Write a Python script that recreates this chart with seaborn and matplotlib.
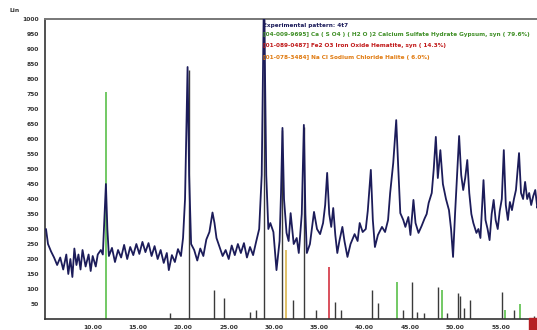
import numpy as np
import pandas as pd
import matplotlib
matplotlib.use("Agg")
import matplotlib.pyplot as plt
from matplotlib.patches import Rectangle
import seaborn as sns

# Measured diffraction trace (2-theta in degrees, intensity in counts)
two_theta = [
    4.85, 5.07, 5.41, 5.74, 6.08, 6.42, 6.75, 7.09, 7.31, 7.54, 7.76, 7.98, 8.21,
    8.43, 8.66, 8.88, 9.22, 9.55, 9.78, 10.00, 10.34, 10.56, 10.90, 11.12, 11.29,
    11.46, 11.62, 11.79, 12.13, 12.46, 12.80, 13.14, 13.47, 13.81, 14.14, 14.48,
    14.82, 15.15, 15.49, 15.82, 16.16, 16.50, 16.83, 17.17, 17.50, 17.84, 18.18,
    18.40, 18.74, 19.07, 19.41, 19.74, 19.97, 20.19, 20.47, 20.64, 20.86, 21.20,
    21.54, 21.87, 22.21, 22.54, 22.88, 23.22, 23.44, 23.66, 24.00, 24.34, 24.67,
    25.01, 25.34, 25.68, 26.02, 26.35, 26.69, 27.02, 27.36, 27.70, 28.03, 28.37,
    28.65, 28.90, 29.15, 29.38, 29.60, 29.94, 30.28, 30.62, 30.78, 30.94, 31.11,
    31.39, 31.62, 31.84, 32.18, 32.51, 32.74, 33.07, 33.30, 33.47, 33.63, 33.97,
    34.42, 34.75, 35.09, 35.42, 35.65, 35.87, 36.10, 36.32, 36.54, 36.77, 36.99,
    37.22, 37.55, 37.78, 38.11, 38.45, 38.90, 39.23, 39.46, 39.79, 40.13, 40.35,
    40.69, 40.91, 41.14, 41.47, 41.92, 42.26, 42.59, 42.82, 43.16, 43.49, 43.72,
    43.94, 44.27, 44.50, 44.83, 45.06, 45.39, 45.62, 45.95, 46.29, 46.62, 46.85,
    47.07, 47.41, 47.63, 47.86, 48.08, 48.36, 48.64, 48.98, 49.31, 49.54, 49.76,
    49.98, 50.21, 50.43, 50.66, 50.88, 51.10, 51.33, 51.55, 51.78, 52.00, 52.34,
    52.56, 52.78, 53.12, 53.34, 53.57, 53.79, 54.02, 54.24, 54.46, 54.69, 54.91,
    55.14, 55.36, 55.58, 55.81, 56.03, 56.26, 56.48, 56.70, 57.04, 57.26, 57.49,
    57.71, 57.94, 58.16, 58.38, 58.61, 58.83, 59.06, 59.28, 59.50, 59.73, 59.95,
]
counts = [
    300, 250, 225, 205, 180, 205, 165, 215, 150, 200, 140, 235, 180,
    215, 165, 230, 175, 215, 160, 210, 175, 215, 230, 215, 330,
    450, 300, 210, 237, 190, 230, 205, 247, 200, 240, 213,
    250, 217, 257, 223, 253, 210, 243, 200, 230, 187, 220,
    163, 213, 190, 233, 210, 270, 400, 840, 480, 250, 230,
    195, 235, 210, 265, 290, 355, 320, 270, 240, 210, 230,
    200, 245, 213, 250, 220, 253, 205, 240, 213, 257, 300,
    480, 1100, 480, 300, 320, 290, 163, 260, 420, 637, 400,
    287, 260, 353, 250, 270, 220, 350, 647, 350, 220, 250,
    357, 300, 283, 320, 380, 487, 350, 307, 370, 280, 220,
    260, 307, 260, 207, 250, 283, 260, 320, 290, 300, 360,
    497, 330, 240, 280, 307, 290, 330, 420, 520, 663, 500,
    353, 330, 307, 340, 280, 397, 320, 287, 310, 335, 350,
    387, 420, 500, 607, 470, 563, 450, 400, 363, 300, 207,
    350, 480, 610, 480, 430, 470, 530, 420, 350, 320, 287,
    300, 270, 463, 330, 300, 263, 350, 397, 330, 300, 360,
    400, 563, 380, 330, 390, 363, 400, 430, 553, 420, 400,
    457, 400, 420, 380, 410, 430, 370, 400, 340, 397, 400,
]

# Reference stick patterns (position, intensity)
gypsum_pos = [11.46, 43.60, 48.53, 55.47, 57.15]
gypsum_int = [757, 123, 97, 30, 50]
other_pos = [18.51, 20.64, 23.44, 24.45, 27.36, 28.03, 28.93, 30.94, 32.06, 33.35,
             34.64, 36.77, 37.44, 40.80, 41.47, 44.27, 45.28, 45.73, 46.51, 48.08,
             49.09, 50.32, 50.54, 50.99, 51.66, 55.14, 56.48, 58.72]
other_int = [20, 830, 97, 70, 23, 30, 1000, 630, 63, 640,
             30, 57, 30, 97, 53, 30, 123, 23, 20, 107,
             20, 87, 77, 37, 63, 90, 30, 10]
hematite_pos = [36.10]
hematite_int = [173]
halite_pos = [31.28]
halite_int = [230]

y_ticks = list(range(50, 1001, 50))
x_ticks = [10, 15, 20, 25, 30, 35, 40, 45, 50, 55]
x_tick_labels = ["10.00", "15.00", "20.00", "25.00", "30.00",
                 "35.00", "40.00", "45.00", "50.00", "55.00"]

legend_rows = [
    ("Experimental pattern: 4t7", "#1c1c5a"),
    ("[04-009-9695] Ca ( S O4 ) ( H2 O )2 Calcium Sulfate Hydrate Gypsum, syn ( 79.6%)", "#3f8f26"),
    ("[01-089-0487] Fe2 O3 Iron Oxide Hematite, syn ( 14.3%)", "#c01818"),
    ("[01-078-3484] Na Cl Sodium Chloride Halite ( 6.0%)", "#e07a10"),
]

sns.set_theme(style="white")
plt.rcParams["font.family"] = ["DejaVu Sans"]

fig = plt.figure(figsize=(5.37, 3.30), dpi=100)
ax = fig.add_axes([0.0838, 0.0333, 0.93, 0.9091])

# Stick patterns
ax.vlines(other_pos, 0, other_int, color="#3a3a3a", lw=1.0, zorder=1)
ax.vlines(gypsum_pos, 0, gypsum_int, color="#4cbb3a", lw=1.1, zorder=1)
ax.vlines(hematite_pos, 0, hematite_int, color="#d02030", lw=1.1, zorder=1)
ax.vlines(halite_pos, 0, halite_int, color="#d8b040", lw=1.1, zorder=1)

# Measured trace
df = pd.DataFrame({"two_theta": two_theta, "counts": counts})
sns.lineplot(data=df, x="two_theta", y="counts", ax=ax, color="#1c1c5a",
             lw=1.3, zorder=3, sort=False)

ax.set_xlim(4.74, 59.84)
ax.set_ylim(0, 1000)
ax.set_xlabel("")
ax.set_ylabel("")
ax.set_yticks(y_ticks)
ax.set_yticklabels([str(v) for v in y_ticks])
ax.set_xticks(x_ticks)
ax.set_xticklabels(x_tick_labels)
ax.tick_params(axis="both", direction="out", length=3, width=0.8, color="#333333",
               labelsize=4.3, labelcolor="#333333", pad=1.5)
for lab in ax.get_xticklabels() + ax.get_yticklabels():
    lab.set_fontweight("bold")

for side in ["left", "bottom"]:
    ax.spines[side].set_color("#333333")
    ax.spines[side].set_linewidth(1.2)
ax.spines["top"].set_color("#777777")
ax.spines["top"].set_linewidth(1.4)
ax.spines["right"].set_visible(False)

fig.text(0.018, 0.968, "Lin", fontsize=4.3, fontweight="bold", color="#333333",
         va="center", ha="left")

row_y = [0.924, 0.894, 0.861, 0.827]
for (txt, col), yy in zip(legend_rows, row_y):
    fig.text(0.490, yy, txt, fontsize=4.15, color=col, fontweight="bold",
             va="center", ha="left")

fig.patches.append(Rectangle((0.986, 0.0), 0.014, 0.035, transform=fig.transFigure,
                             color="#b52025", zorder=5))

fig.savefig("out.png", dpi=100)
